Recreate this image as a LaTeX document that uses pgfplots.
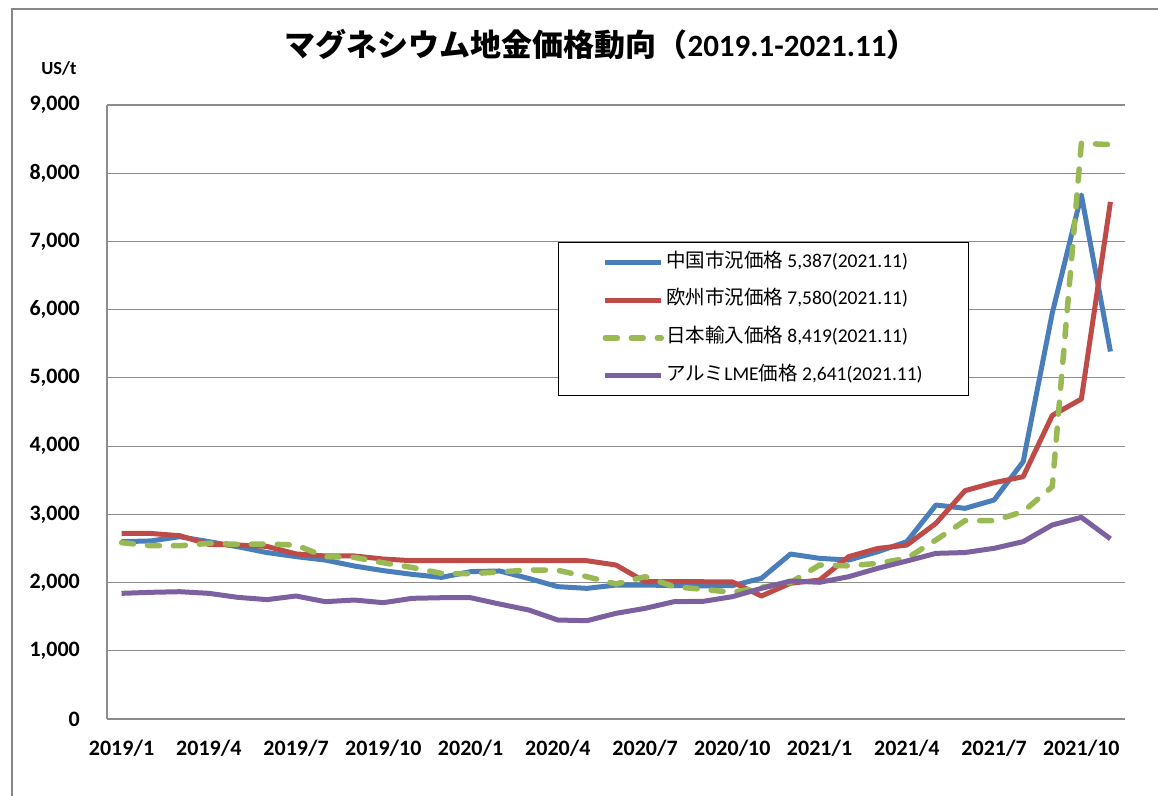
\documentclass[border=0pt]{standalone}
\usepackage{fontspec}
\setmainfont{Carlito}
\newfontfamily\cjk{Noto Sans CJK JP}
\usepackage{pgfplots}
\pgfplotsset{compat=1.18}
\usepackage{pgfplotstable}
\definecolor{cblue}{HTML}{4A7EBB}
\definecolor{cred}{HTML}{BE4B48}
\definecolor{cgreen}{HTML}{98B954}
\definecolor{cpurple}{HTML}{7D60A0}
\definecolor{gridgray}{HTML}{8C8C8C}
\definecolor{framegray}{HTML}{868686}

\pgfplotstableread{
idx cn eu jp al
0 2600 2722 2585 1842
1 2610 2720 2540 1857
2 2672 2687 2540 1866
3 2600 2560 2575 1842
4 2525 2550 2560 1783
5 2440 2530 2565 1750
6 2380 2420 2550 1803
7 2330 2390 2380 1720
8 2243 2390 2370 1744
9 2175 2345 2290 1705
10 2120 2320 2220 1769
11 2076 2320 2135 1778
12 2160 2320 2130 1778
13 2170 2320 2155 1685
14 2060 2320 2185 1598
15 1940 2320 2180 1451
16 1915 2320 2086 1441
17 1964 2257 1980 1549
18 1964 2012 2086 1622
19 1955 2012 1940 1720
20 1950 2012 1900 1725
21 1955 2010 1857 1793
22 2062 1803 1930 1915
23 2418 1990 2000 2023
24 2355 2037 2257 2004
25 2330 2380 2245 2086
26 2452 2500 2282 2209
27 2600 2550 2355 2316
28 3137 2868 2624 2428
29 3088 3347 2907 2440
30 3210 3464 2907 2502
31 3772 3552 3040 2600
32 5950 4450 3405 2844
33 7681 4690 8439 2956
34 5387 7580 8419 2641
}\data

\begin{document}
\begin{tikzpicture}
\useasboundingbox (0pt,0pt) rectangle (1158pt,-795pt);
\draw[color=framegray, line width=2pt] (12pt,-800pt) -- (12pt,-9pt) -- (1165pt,-9pt);
\node[font=\cjk\bfseries\fontsize{31}{34}\selectfont] at (601pt,-45pt)
  {マグネシウム地金価格動向（{\normalfont\bfseries 2019.1-2021.11}）};
\node[font=\bfseries\fontsize{18.5}{20}\selectfont] at (59pt,-68pt) {US/t};
\begin{axis}[
  at={(107pt,-719pt)}, anchor=south west,
  scale only axis, width=1018pt, height=614pt,
  xmin=-0.5, xmax=34.5, ymin=0, ymax=9000,
  axis x line*=bottom, axis y line*=left,
  axis line style={-, color=gridgray, line width=1.5pt},
  ymajorgrids, major grid style={color=gridgray, line width=1.2pt},
  major tick length=0pt,
  ytick={0,1000,...,9000},
  xtick={0,3,...,33},
  xticklabels={2019/1,2019/4,2019/7,2019/10,2020/1,2020/4,2020/7,2020/10,2021/1,2021/4,2021/7,2021/10},
  /pgf/number format/assume math mode=true,
  /pgf/number format/1000 sep={,},
  tick label style={font=\bfseries\fontsize{22}{24}\selectfont},
  yticklabel style={anchor=east, inner sep=0pt, xshift=-27pt},
  xticklabel style={anchor=north, inner sep=0pt, yshift=-21pt},
  clip=false,
  legend image code/.code={\draw[#1] (0pt,0pt) -- (56pt,0pt);},
  legend style={at={(0.443,0.777)}, anchor=north west, draw=black, line width=1.2pt,
    fill=white, inner xsep=44pt, inner ysep=8.5pt, row sep=14.7pt,
    font=\fontsize{19.5}{22}\selectfont,
    nodes={inner sep=2pt, text height=14pt, text depth=5pt}},
  legend cell align=left,
  every axis plot/.append style={line width=5pt, line join=round},
]
\addplot[color=cblue] table[x=idx, y=cn] {\data};
\addlegendentry{{\cjk 中国市況価格} 5,387(2021.11)}
\addplot[color=cred] table[x=idx, y=eu] {\data};
\addlegendentry{{\cjk 欧州市況価格} 7,580(2021.11)}
\addplot[color=cgreen, line width=5.5pt, line cap=round, dash pattern=on 12pt off 14pt] table[x=idx, y=jp] {\data};
\addlegendentry{{\cjk 日本輸入価格} 8,419(2021.11)}
\addplot[color=cpurple] table[x=idx, y=al] {\data};
\addlegendentry{{\cjk アルミ}LME{\cjk 価格} 2,641(2021.11)}
\end{axis}
\end{tikzpicture}
\end{document}
